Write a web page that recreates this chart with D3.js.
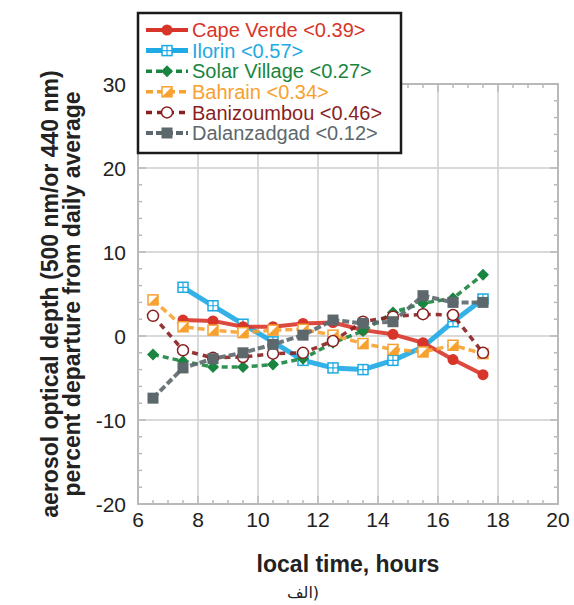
<!DOCTYPE html>
<html>
<head>
<meta charset="utf-8">
<script src="https://cdn.jsdelivr.net/npm/d3@7"></script>
<style>
  body { margin: 0; background: #fff; }
  text { font-family: "Liberation Sans", Arial, sans-serif; }
</style>
</head>
<body>
<div id="chart"></div>
<script>
const hours = [6.5, 7.5, 8.5, 9.5, 10.5, 11.5, 12.5, 13.5, 14.5, 15.5, 16.5, 17.5]

const capeVerde = [null, 1.9, 1.8, 1.1, 1.1, 1.5, 1.6, 0.7, 0.2, -0.8, -2.8, -4.6]
const ilorin = [null, 5.8, 3.6, 1.4, -0.7, -2.9, -3.8, -4.0, -2.9, -1.3, 1.7, 4.4]
const solarVillage = [-2.2, -3.0, -3.7, -3.7, -3.4, -2.7, -0.8, 0.6, 2.8, 3.9, 4.5, 7.3]
const bahrain = [4.3, 1.1, 0.7, 0.4, 0.7, 0.8, 0.1, -0.9, -1.6, -1.9, -1.1, -2.1]
const banizoumbou = [2.4, -1.7, -2.6, -2.5, -2.1, -2.0, -0.6, 1.7, 2.3, 2.6, 2.5, -2.0]
const dalanzadgad = [-7.4, -3.8, -2.7, -2.0, -1.0, 0.1, 1.9, 1.5, 1.7, 4.8, 4.0, 4.0]

const seriesNames = ['Cape Verde <0.39>', 'Ilorin <0.57>', 'Solar Village <0.27>',
  'Bahrain <0.34>', 'Banizoumbou <0.46>', 'Dalanzadgad <0.12>']

const xTicks = [6, 8, 10, 12, 14, 16, 18, 20]
const yTicks = [-20, -10, 0, 10, 20, 30]

const width = 574
const height = 605
const margin = { left: 138, right: 16, top: 84, bottom: 101 }

const series = [
  { name: seriesNames[1], values: ilorin, color: '#1eaae4', width: 5, dash: null, marker: 'crossSquare' },
  { name: seriesNames[0], values: capeVerde, color: '#d8352a', width: 4, dash: null, marker: 'circle' },
  { name: seriesNames[2], values: solarVillage, color: '#1a8540', width: 3.5, dash: '6,4', marker: 'diamond' },
  { name: seriesNames[3], values: bahrain, color: '#f7a131', width: 3.5, dash: '7,4', marker: 'halfSquare' },
  { name: seriesNames[4], values: banizoumbou, color: '#8a1f1f', width: 3.5, dash: '6,5', marker: 'openCircle' },
  { name: seriesNames[5], values: dalanzadgad, color: '#5d686d', width: 4, dash: '7,3', marker: 'square' }
]
const legendOrder = [1, 0, 2, 3, 4, 5]

const svg = d3.select('#chart').append('svg')
  .attr('width', width)
  .attr('height', height)

const x = d3.scaleLinear().domain([6, 20]).range([margin.left, width - margin.right])
const y = d3.scaleLinear().domain([-20, 30]).range([height - margin.bottom, margin.top])

const frameColor = '#b9b9b9'
const gridColor = '#cccccc'

// grid lines
svg.append('g')
  .selectAll('line.vx')
  .data(xTicks.slice(1, -1))
  .join('line')
  .attr('x1', d => x(d)).attr('x2', d => x(d))
  .attr('y1', y(-20)).attr('y2', y(30))
  .attr('stroke', gridColor).attr('stroke-width', 1.5)

svg.append('g')
  .selectAll('line.hy')
  .data(yTicks.slice(1, -1))
  .join('line')
  .attr('x1', x(6)).attr('x2', x(20))
  .attr('y1', d => y(d)).attr('y2', d => y(d))
  .attr('stroke', gridColor).attr('stroke-width', 1.5)

// minor ticks, inward on all sides
const xMinor = d3.range(6, 20.01, 0.5)
const yMinor = d3.range(-20, 30.01, 2)
const tickG = svg.append('g').attr('stroke', frameColor).attr('stroke-width', 1.5)
tickG.selectAll('line.xb').data(xMinor).join('line')
  .attr('x1', d => x(d)).attr('x2', d => x(d))
  .attr('y1', y(-20)).attr('y2', d => y(-20) - (d % 2 === 0 ? 8 : 4))
tickG.selectAll('line.xt').data(xMinor).join('line')
  .attr('x1', d => x(d)).attr('x2', d => x(d))
  .attr('y1', y(30)).attr('y2', d => y(30) + (d % 2 === 0 ? 8 : 4))
tickG.selectAll('line.yl').data(yMinor).join('line')
  .attr('x1', x(6)).attr('x2', d => x(6) + (d % 10 === 0 ? 8 : 4))
  .attr('y1', d => y(d)).attr('y2', d => y(d))
tickG.selectAll('line.yr').data(yMinor).join('line')
  .attr('x1', x(20)).attr('x2', d => x(20) - (d % 10 === 0 ? 8 : 4))
  .attr('y1', d => y(d)).attr('y2', d => y(d))

svg.append('rect')
  .attr('x', x(6)).attr('y', y(30))
  .attr('width', x(20) - x(6)).attr('height', y(-20) - y(30))
  .attr('fill', 'none').attr('stroke', frameColor).attr('stroke-width', 2)

// tick labels
svg.append('g')
  .selectAll('text')
  .data(xTicks)
  .join('text')
  .attr('x', d => x(d))
  .attr('y', y(-20) + 23)
  .attr('text-anchor', 'middle')
  .attr('font-size', 21)
  .attr('fill', '#222')
  .text(d => d)

svg.append('g')
  .selectAll('text')
  .data(yTicks)
  .join('text')
  .attr('x', x(6) - 12)
  .attr('y', d => y(d))
  .attr('dy', '0.36em')
  .attr('text-anchor', 'end')
  .attr('font-size', 21)
  .attr('fill', '#222')
  .text(d => d)

// axis titles
svg.append('text')
  .attr('x', (x(6) + x(20)) / 2)
  .attr('y', 572)
  .attr('text-anchor', 'middle')
  .attr('font-size', 23)
  .attr('font-weight', 'bold')
  .attr('fill', '#222')
  .text('local time, hours')

const yMid = (y(-20) + y(30)) / 2
const yTitle = svg.append('g').attr('transform', `translate(0,${yMid}) rotate(-90)`)
yTitle.append('text')
  .attr('x', 0).attr('y', 50).attr('dy', '0.35em')
  .attr('text-anchor', 'middle')
  .attr('font-size', 23).attr('font-weight', 'bold').attr('fill', '#222')
  .text('aerosol optical depth (500 nm/or 440 nm)')
yTitle.append('text')
  .attr('x', 0).attr('y', 72).attr('dy', '0.35em')
  .attr('text-anchor', 'middle')
  .attr('font-size', 23).attr('font-weight', 'bold').attr('fill', '#222')
  .text('percent departure from daily average')

svg.append('text')
  .attr('x', 303).attr('y', 598)
  .attr('text-anchor', 'middle')
  .attr('direction', 'rtl')
  .attr('font-size', 16)
  .attr('fill', '#222')
  .style('font-family', '"DejaVu Sans", sans-serif')
  .text('(الف')

// markers
const drawMarker = (g, s, cx, cy) => {
  const m = g.append('g').attr('transform', `translate(${cx},${cy})`)
  if (s.marker === 'circle') {
    m.append('circle').attr('r', 5.5).attr('fill', s.color)
  } else if (s.marker === 'openCircle') {
    m.append('circle').attr('r', 5.5).attr('fill', '#fff').attr('stroke', s.color).attr('stroke-width', 1.5)
  } else if (s.marker === 'diamond') {
    m.append('path').attr('d', 'M0,-6L6,0L0,6L-6,0Z').attr('fill', s.color)
  } else if (s.marker === 'square') {
    m.append('rect').attr('x', -5.5).attr('y', -5.5).attr('width', 11).attr('height', 11).attr('fill', s.color)
  } else if (s.marker === 'halfSquare') {
    m.append('rect').attr('x', -5).attr('y', -5).attr('width', 10).attr('height', 10)
      .attr('fill', '#fff').attr('stroke', s.color).attr('stroke-width', 1.5)
    m.append('path').attr('d', 'M5,-5L5,5L-5,5Z').attr('fill', s.color)
  } else if (s.marker === 'crossSquare') {
    m.append('rect').attr('x', -5).attr('y', -5).attr('width', 10).attr('height', 10)
      .attr('fill', '#fff').attr('stroke', s.color).attr('stroke-width', 1.5)
    m.append('path').attr('d', 'M0,-5V5M-5,0H5').attr('stroke', s.color).attr('stroke-width', 1.2)
  }
}

const line = d3.line()
  .defined(d => d[1] !== null)
  .x(d => x(d[0]))
  .y(d => y(d[1]))

const plotG = svg.append('g')
series.forEach(s => {
  const pts = hours.map((h, i) => [h, s.values[i]])
  plotG.append('path')
    .datum(pts)
    .attr('d', line)
    .attr('fill', 'none')
    .attr('stroke', s.color)
    .attr('stroke-width', s.width)
    .attr('stroke-dasharray', s.dash)
    .attr('stroke-linejoin', 'round')
    .attr('opacity', 0.9)
  pts.filter(p => p[1] !== null).forEach(p => drawMarker(plotG, s, x(p[0]), y(p[1])))
})

// legend
const legend = svg.append('g')
legend.append('rect')
  .attr('x', 138).attr('y', 13)
  .attr('width', 263).attr('height', 140)
  .attr('fill', '#fff')
  .attr('stroke', '#1a1a1a')
  .attr('stroke-width', 2.5)

legendOrder.forEach((idx, row) => {
  const s = series[idx]
  const cy = 30 + row * 20.6
  legend.append('line')
    .attr('x1', 146).attr('x2', 188)
    .attr('y1', cy).attr('y2', cy)
    .attr('stroke', s.color)
    .attr('stroke-width', s.width)
    .attr('stroke-dasharray', s.dash)
  drawMarker(legend, s, 167, cy)
  legend.append('text')
    .attr('x', 192).attr('y', cy)
    .attr('dy', '0.36em')
    .attr('font-size', 20)
    .attr('fill', s.color)
    .text(s.name)
})
</script>
</body>
</html>
